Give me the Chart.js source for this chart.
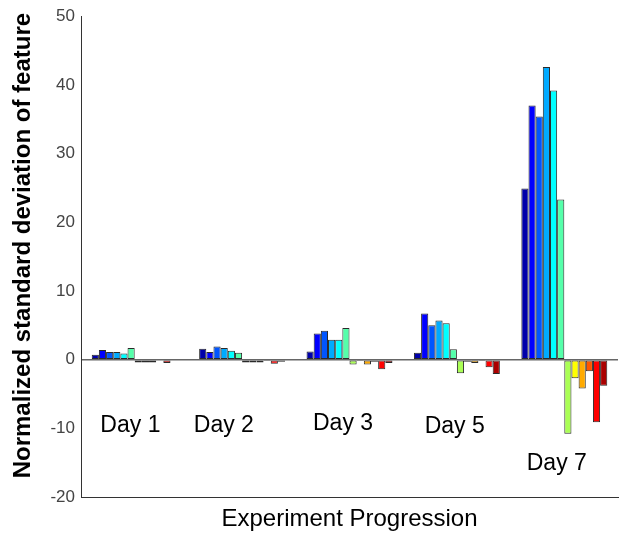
<!DOCTYPE html>
<html>
<head>
<meta charset="utf-8">
<script src="https://cdn.jsdelivr.net/npm/chart.js@4/dist/chart.umd.min.js"></script>
<style>
  body { margin: 0; background: #fff; }
  #wrap { width: 622px; height: 536px; position: relative; }
</style>
</head>
<body>
<div id="wrap"><canvas id="devChart"></canvas></div>
<script>
// Groups along the x axis
const days = ['Day 1', 'Day 2', 'Day 3', 'Day 5', 'Day 7'];

// 12 features per day (jet colour order)
const day1 = [0.7, 1.4, 1.1, 1.1, 0.9, 1.7, -0.4, -0.4, -0.4, 0, -0.5, 0];
const day2 = [1.6, 1.1, 1.9, 1.7, 1.3, 1.0, -0.4, -0.4, -0.4, -0.2, -0.6, -0.3];
const day3 = [1.2, 3.8, 4.2, 2.9, 2.9, 4.6, -0.7, -0.2, -0.7, -0.3, -1.4, -0.5];
const day5 = [1.0, 6.7, 5.0, 5.7, 5.3, 1.5, -2.0, -0.3, -0.5, -0.2, -1.1, -2.1];
const day7 = [24.9, 37.0, 35.4, 42.6, 39.2, 23.3, -10.8, -2.7, -4.2, -1.7, -9.1, -3.8];

const jetColors = ['#0000aa', '#0000ff', '#0055ff', '#00aaff', '#00ffff', '#55ffaa',
                   '#aaff55', '#ffff00', '#ffaa00', '#ff5500', '#ff0000', '#aa0000'];

// y axis ticks
const yTicks = [-20, -10, 0, 10, 20, 30, 40, 50];
const yTitle = 'Normalized standard deviation of feature';

// Day text labels placed inside the plot (x offset in categories, y in data units)
const labelOffsetX = [-0.04, -0.17, -0.06, -0.02, -0.07];
const labelY = [-10.6, -10.5, -10.3, -10.75, -16.0];

const byDay = [day1, day2, day3, day5, day7];
const datasets = jetColors.map((c, i) => ({
  label: 'Feature ' + (i + 1),
  data: byDay.map(d => d[i]),
  backgroundColor: c,
  borderColor: '#2a2a2a',
  borderWidth: 1,
  borderSkipped: false,
  categoryPercentage: 0.8,
  barPercentage: 1.0
}));

// Day labels in the plot + the y title (sits a bit above centre in the original)
const textPlugin = {
  id: 'textPlugin',
  afterDatasetsDraw(chart) {
    const { ctx, chartArea, scales: { x, y } } = chart;
    const catW = (x.right - x.left) / days.length;
    ctx.save();
    ctx.font = '23px "Liberation Sans", Arial, sans-serif';
    ctx.fillStyle = '#000';
    ctx.textAlign = 'center';
    ctx.textBaseline = 'alphabetic';
    days.forEach((d, i) => {
      const px = x.getPixelForValue(i) + labelOffsetX[i] * catW;
      const py = y.getPixelForValue(labelY[i]);
      ctx.fillText(d, px, py);
    });

    ctx.translate(23, (chartArea.top + chartArea.bottom) / 2 - 11);
    ctx.rotate(-Math.PI / 2);
    ctx.font = 'bold 24px "Liberation Sans", Arial, sans-serif';
    ctx.textBaseline = 'middle';
    ctx.fillText(yTitle, 0, 0);
    ctx.restore();
  }
};

const ctx = document.getElementById('devChart').getContext('2d');
new Chart(ctx, {
  type: 'bar',
  data: { labels: days, datasets: datasets },
  options: {
    responsive: true,
    maintainAspectRatio: false,
    animation: false,
    layout: { padding: { top: 5, right: 4, left: 0, bottom: 0 } },
    plugins: {
      legend: { display: false },
      tooltip: { enabled: false }
    },
    scales: {
      x: {
        grid: { display: false },
        border: { display: true, color: '#333', width: 1 },
        ticks: { display: false },
        title: {
          display: true,
          text: 'Experiment Progression',
          color: '#000',
          font: { family: '"Liberation Sans", Arial, sans-serif', size: 24 },
          padding: { top: 0, bottom: 2 }
        },
        afterFit(scale) { scale.height = 39; }
      },
      y: {
        min: yTicks[0],
        max: yTicks[yTicks.length - 1],
        afterBuildTicks(scale) { scale.ticks = yTicks.map(v => ({ value: v })); },
        grid: {
          drawTicks: false,
          color: c => (c.tick && c.tick.value === 0 ? '#666' : 'rgba(0,0,0,0)'),
          lineWidth: 1.5
        },
        border: { display: true, color: '#333', width: 1 },
        ticks: {
          padding: 6,
          color: '#444',
          font: { family: '"Liberation Sans", Arial, sans-serif', size: 17 }
        },
        title: { display: false },
        afterFit(scale) { scale.width = 81; }
      }
    }
  },
  plugins: [textPlugin]
});
</script>
</body>
</html>
